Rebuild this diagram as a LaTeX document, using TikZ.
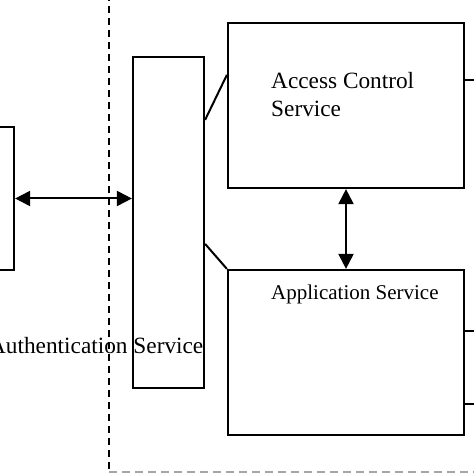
\documentclass[tikz,border=0pt]{standalone}
\usepackage{fontspec}
\setmainfont{Liberation Serif}
\usetikzlibrary{arrows.meta,calc}
\begin{document}
\begin{tikzpicture}[x=1pt,y=1pt,
  box/.style={draw=black,line width=2.2pt,rectangle,inner sep=0pt,fill=none},
  conn/.style={draw=black,line width=2pt},
  dbl/.style={conn,{Triangle[length=15pt,width=15pt]}-{Triangle[length=15pt,width=15pt]}},
  bigtext/.style={inner sep=0pt,font=\fontsize{23.3}{28}\selectfont,align=left},
  smalltext/.style={inner sep=0pt,font=\fontsize{21}{25}\selectfont}]
\useasboundingbox (0,0) rectangle (474,474);
\fill[white] (0,0) rectangle (474,474);
% boundary
\coordinate (dtop) at (109,480);
\coordinate (dcorner) at (109,2);
\coordinate (dright) at (480,2);
\draw[black,line width=1.8pt,dash pattern=on 7pt off 5pt] (dtop) -- (dcorner);
\draw[gray!70,line width=1.6pt,dash pattern=on 8pt off 5pt] (dcorner) -- (dright);
% boxes
\node[box,minimum width=44pt,minimum height=143pt] (lb) at (-8,275.5) {};
\node[box,minimum width=71pt,minimum height=331pt] (tb) at (168.5,251.5) {};
\node[box,minimum width=236pt,minimum height=165pt] (ac) at (346,368.5) {};
\node[box,minimum width=236pt,minimum height=165pt] (app) at (346,121.5) {};
% texts
\node[bigtext,anchor=north west] (actext) at (271,402) {Access Control\\Service};
\node[smalltext,anchor=base west] (apptext) at (271,174) {Application Service};
\node[bigtext,anchor=base east] (authtext) at (203.5,120) {Authentication Service};
% connectors
\draw[dbl] (lb.east) -- (lb.east -| tb.west);
\draw[dbl] (ac.south) -- (app.north);
\draw[conn] ($(tb.north east)+(0,-64)$) -- ($(ac.north west)+(0,-53)$);
\draw[conn] ($(tb.north east)+(0,-188)$) -- (app.north west);
\coordinate (s1) at (480,394);
\coordinate (s2) at (480,143);
\coordinate (s3) at (480,70);
\draw[conn] (ac.east |- s1) -- (s1);
\draw[conn] (app.east |- s2) -- (s2);
\draw[conn] (app.east |- s3) -- (s3);
\end{tikzpicture}
\end{document}
